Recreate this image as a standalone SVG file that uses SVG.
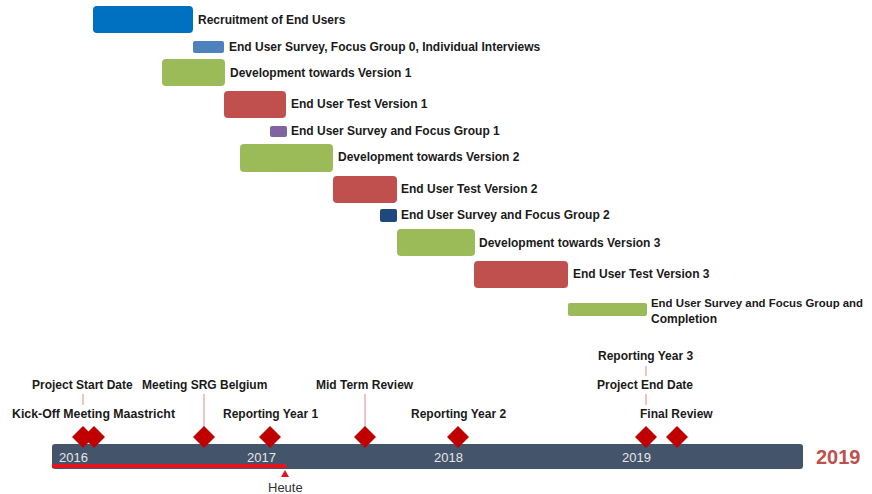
<svg xmlns="http://www.w3.org/2000/svg" xmlns:xlink="http://www.w3.org/1999/xlink" width="872" height="494" viewBox="0 0 872 494">
<style>
.lbl{font-family:"Liberation Sans",Arial,sans-serif;font-weight:bold;font-size:12px;fill:#1a1a1a}
.yr{font-family:"Liberation Sans",Arial,sans-serif;font-size:13px;fill:#e6e6e6}
.blue{fill:#0070C0}.lblue{fill:#4F81BD}.green{fill:#9BBB59}.red{fill:#C0504D}.purple{fill:#8064A2}.dblue{fill:#1F497D}
.ms{fill:#C00000}
.lead{stroke:#D98A88;stroke-width:1;fill:none}
</style>
<defs>
<path id="dia" d="M0,-11 L11,0 L0,11 L-11,0 Z"/>
</defs>
<rect width="872" height="494" fill="#ffffff"/>

<g id="task-recruitment"><rect class="blue" x="93" y="6" width="100" height="27" rx="4"/><text class="lbl" x="198" y="24">Recruitment of End Users</text></g>
<g id="task-survey0"><rect class="lblue" x="193" y="41" width="31" height="12" rx="2"/><text class="lbl" x="229" y="51">End User Survey, Focus Group 0, Individual Interviews</text></g>
<g id="task-dev1"><rect class="green" x="162" y="59" width="63" height="27" rx="4"/><text class="lbl" x="230" y="77">Development towards Version 1</text></g>
<g id="task-test1"><rect class="red" x="224" y="91" width="62" height="27" rx="4"/><text class="lbl" x="291" y="108">End User Test Version 1</text></g>
<g id="task-survey1"><rect class="purple" x="270" y="126" width="17" height="11" rx="2"/><text class="lbl" x="291" y="135">End User Survey and Focus Group 1</text></g>
<g id="task-dev2"><rect class="green" x="240" y="144" width="93" height="28" rx="4"/><text class="lbl" x="338" y="161">Development towards Version 2</text></g>
<g id="task-test2"><rect class="red" x="333" y="176" width="64" height="27" rx="4"/><text class="lbl" x="401" y="193">End User Test Version 2</text></g>
<g id="task-survey2"><rect class="dblue" x="380" y="209" width="17" height="13" rx="2"/><text class="lbl" x="401" y="219">End User Survey and Focus Group 2</text></g>
<g id="task-dev3"><rect class="green" x="397" y="229" width="78" height="27" rx="4"/><text class="lbl" x="479" y="247">Development towards Version 3</text></g>
<g id="task-test3"><rect class="red" x="474" y="261" width="94" height="27" rx="4"/><text class="lbl" x="573" y="278">End User Test Version 3</text></g>
<g id="task-completion"><rect class="green" x="568" y="303" width="79" height="13" rx="2"/><text class="lbl" x="651" y="307" style="font-size:11.4px">End User Survey and Focus Group and</text><text class="lbl" x="651" y="323">Completion</text></g>

<g id="timeline">
<rect x="52" y="444" width="751" height="25" rx="3" fill="#44546A"/>
<text class="yr" x="59" y="462">2016</text>
<text class="yr" x="247" y="462">2017</text>
<text class="yr" x="434" y="462">2018</text>
<text class="yr" x="622" y="462">2019</text>
<text x="816" y="464" font-family="Liberation Sans,Arial,sans-serif" font-weight="bold" font-size="20" fill="#C0504D">2019</text>
</g>
<g id="today">
<rect x="52" y="464" width="234" height="4" fill="#E3141D"/>
<path d="M285,470 L289,477 L281,477 Z" fill="#E3141D"/>
<text x="268" y="492" font-family="Liberation Sans,Arial,sans-serif" font-size="13" fill="#333333">Heute</text>
</g>

<g id="connectors">
<line class="lead" x1="83" y1="394" x2="83" y2="405"/>
<line class="lead" x1="204" y1="394" x2="204" y2="427"/>
<line class="lead" x1="365" y1="394" x2="365" y2="427"/>
<line class="lead" x1="646" y1="366" x2="646" y2="376"/>
<line class="lead" x1="646" y1="394" x2="646" y2="405"/>
</g>

<g id="ms-project-start"><use href="#dia" class="ms" x="83" y="437"/><text class="lbl" x="32" y="389">Project Start Date</text></g>
<g id="ms-kickoff"><use href="#dia" class="ms" x="94" y="437"/><text class="lbl" x="12" y="418" textLength="163" lengthAdjust="spacingAndGlyphs">Kick-Off Meeting Maastricht</text></g>
<g id="ms-srg"><use href="#dia" class="ms" x="204" y="437"/><text class="lbl" x="142" y="389">Meeting SRG Belgium</text></g>
<g id="ms-report1"><use href="#dia" class="ms" x="270" y="437"/><text class="lbl" x="223" y="418">Reporting Year 1</text></g>
<g id="ms-midterm"><use href="#dia" class="ms" x="365" y="437"/><text class="lbl" x="316" y="389">Mid Term Review</text></g>
<g id="ms-report2"><use href="#dia" class="ms" x="458" y="437"/><text class="lbl" x="411" y="418">Reporting Year 2</text></g>
<g id="ms-report3"><text class="lbl" x="598" y="360">Reporting Year 3</text></g>
<g id="ms-project-end"><use href="#dia" class="ms" x="646" y="437"/><text class="lbl" x="597" y="389">Project End Date</text></g>
<g id="ms-final"><use href="#dia" class="ms" x="677" y="437"/><text class="lbl" x="640" y="418">Final Review</text></g>
</svg>
